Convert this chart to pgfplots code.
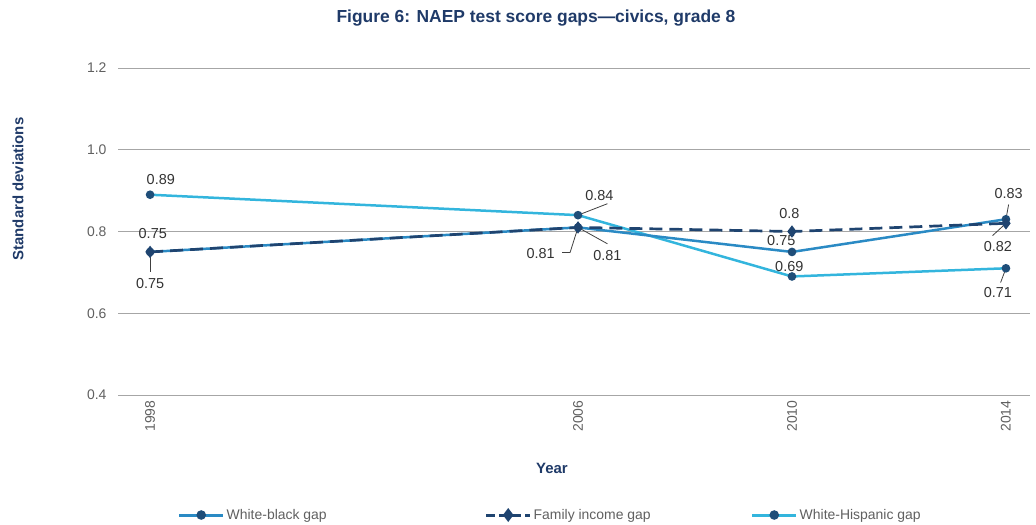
\documentclass[border=0pt]{standalone}
\usepackage{pgfplots}
\pgfplotsset{compat=1.18}
\usepackage{fontspec}
\setmainfont{Liberation Sans}
\definecolor{navy}{HTML}{1F3A68}
\definecolor{mkc}{HTML}{1F4E79}
\definecolor{wb}{HTML}{2A8AC4}
\definecolor{wh}{HTML}{33B5DD}
\definecolor{fi}{HTML}{1F4470}
\definecolor{tk}{HTML}{606060}
\definecolor{gridc}{HTML}{A6A6A6}
\begin{document}
\begin{tikzpicture}
\path[use as bounding box] (0bp,0bp) rectangle (1036bp,-525bp);
\node[font=\bfseries\fontsize{17.5}{20}\selectfont, text=navy] at (536bp,-18bp) {Figure 6: NAEP test score gaps---civics, grade 8};
\node[font=\bfseries\fontsize{15}{17}\selectfont, text=navy, rotate=90] at (18bp,-189bp) {Standard deviations};
\node[font=\bfseries\fontsize{15}{17}\selectfont, text=navy] at (552bp,-468bp) {Year};
\begin{axis}[
  at={(118bp,-395bp)}, anchor=south west,
  scale only axis, width=912bp, height=327bp,
  xmin=1997.4, xmax=2014.45, ymin=0.4, ymax=1.2,
  xtick={1998,2006,2010,2014},
  xticklabels={1998,2006,2010,2014},
  ytick={0.4,0.6,0.8,1.0,1.2},
  yticklabel style={/pgf/number format/fixed, /pgf/number format/fixed zerofill, /pgf/number format/precision=1, /pgf/number format/assume math mode=true,
    font=\fontsize{14}{16}\selectfont, text=tk, xshift=-8bp},
  xticklabel style={font=\fontsize{14}{16}\selectfont, text=tk, rotate=90, anchor=east, xshift=-2bp},
  major tick length=0pt,
  ymajorgrids, grid style={gridc, line width=0.9bp},
  axis x line*=bottom, axis y line*=left,
  x axis line style={draw=gridc, line width=1bp, -},
  y axis line style={draw=none},
  legend columns=3,
  legend style={draw=none, at={(0.062,-0.367)}, anchor=west, font=\fontsize{14}{16}\selectfont, text=tk,
    /tikz/column 2/.style={column sep=156bp},
    /tikz/column 4/.style={column sep=98bp}},
  legend image code/.code={\draw[#1, mark repeat=2, mark phase=2] plot coordinates {(0bp,0bp)(22bp,0bp)(44bp,0bp)};},
  clip=false,
]
\addlegendimage{wb, line width=3bp, mark=*, mark size=3.2bp, mark options={solid, fill=mkc, draw=mkc}}
\addlegendentry{White-black gap}
\addlegendimage{fi, line width=3bp, dash pattern=on 9bp off 4bp, mark=diamond*, mark size=4.5bp, mark options={solid, fill=fi, draw=fi}}
\addlegendentry{Family income gap}
\addlegendimage{wh, line width=3bp, mark=*, mark size=3.2bp, mark options={solid, fill=mkc, draw=mkc}}
\addlegendentry{White-Hispanic gap}
\addplot[wh, line width=2.5bp, mark=*, mark size=3bp, mark options={solid, fill=mkc, draw=mkc}, forget plot] coordinates {(1998,0.89) (2006,0.84) (2010,0.69) (2014,0.71)};
\addplot[wb, line width=2.5bp, mark=*, mark size=3bp, mark options={solid, fill=mkc, draw=mkc}, forget plot] coordinates {(1998,0.75) (2006,0.81) (2010,0.75) (2014,0.83)};
\addplot[fi, line width=2.7bp, dash pattern=on 13bp off 7bp, mark=diamond*, mark size=4bp, mark options={solid, fill=fi, draw=fi}, forget plot] coordinates {(1998,0.75) (2006,0.81) (2010,0.80) (2014,0.82)};
% data labels
\begin{scope}[every node/.style={font=\fontsize{14.5}{16}\selectfont, text=black!80}]
\node at (axis cs:1998.2,0.927) {0.89};
\node at (axis cs:1998.05,0.795) {0.75};
\node at (axis cs:1998.0,0.672) {0.75};
\draw[black!75, line width=0.8bp] (axis cs:1998,0.75) -- (axis cs:1998,0.70);
\node at (axis cs:2006.4,0.888) {0.84};
\draw[black!75, line width=0.8bp] (axis cs:2006,0.84) -- (axis cs:2006.55,0.868);
\node at (axis cs:2005.3,0.745) {0.81};
\draw[black!75, line width=0.8bp] (axis cs:2006,0.81) -- (axis cs:2005.85,0.748);
\draw[black!75, line width=0.8bp] (axis cs:2005.85,0.748) -- (axis cs:2005.7,0.748);
\node at (axis cs:2006.55,0.742) {0.81};
\draw[black!75, line width=0.8bp] (axis cs:2006,0.81) -- (axis cs:2006.55,0.77);
\node at (axis cs:2009.95,0.843) {0.8};
\node at (axis cs:2009.8,0.777) {0.75};
\node at (axis cs:2009.95,0.715) {0.69};
\node at (axis cs:2014.05,0.892) {0.83};
\draw[black!75, line width=0.8bp] (axis cs:2014,0.83) -- (axis cs:2014.05,0.866);
\node at (axis cs:2013.85,0.763) {0.82};
\draw[black!75, line width=0.8bp] (axis cs:2014,0.82) -- (axis cs:2013.75,0.79);
\node at (axis cs:2013.85,0.650) {0.71};
\draw[black!75, line width=0.8bp] (axis cs:2014,0.71) -- (axis cs:2013.9,0.675);
\end{scope}
\end{axis}
\end{tikzpicture}
\end{document}
